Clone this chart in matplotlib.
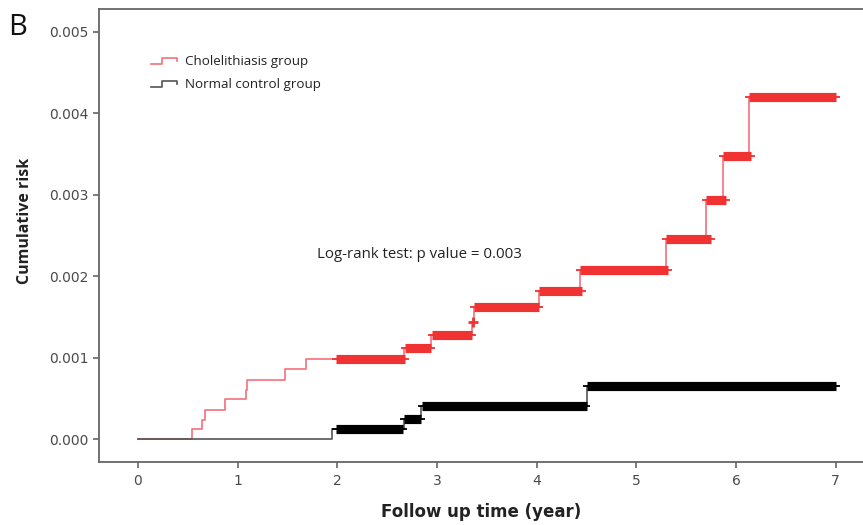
import matplotlib
matplotlib.use("Agg")
import matplotlib.pyplot as plt
from matplotlib.legend_handler import HandlerBase
from matplotlib.lines import Line2D

# Cholelithiasis group: step events (time in years, cumulative risk)
chole_t = [0.0, 0.546, 0.64, 0.67, 0.875, 1.088, 1.098, 1.477, 1.69,
           2.67, 2.944, 3.355, 3.37, 4.024, 4.43, 5.30, 5.70, 5.87, 6.13, 7.01]
chole_r = [0.0, 0.00012, 0.00024, 0.00036, 0.00049, 0.00061, 0.00073, 0.00086, 0.00098,
           0.00112, 0.001285, 0.00144, 0.001624, 0.001817, 0.002075, 0.002452,
           0.002934, 0.003478, 0.004195, 0.004195]
# dense censoring (drawn as thick bars): start, end, level
chole_cen_start = [1.99, 2.68, 2.945, 3.37, 4.025, 4.43, 5.30, 5.70, 5.87, 6.13]
chole_cen_end = [2.68, 2.94, 3.35, 4.02, 4.45, 5.32, 5.75, 5.90, 6.15, 7.00]
chole_cen_lvl = [0.00098, 0.00112, 0.001285, 0.001624, 0.001817, 0.002075,
                 0.002452, 0.002934, 0.003478, 0.004195]

# Normal control group
ctrl_t = [0.0, 1.947, 2.67, 2.838, 4.504, 7.01]
ctrl_r = [0.0, 0.000131, 0.000254, 0.000405, 0.000654, 0.000654]
ctrl_cen_start = [1.99, 2.67, 2.845, 4.507]
ctrl_cen_end = [2.66, 2.84, 4.50, 7.00]
ctrl_cen_lvl = [0.000131, 0.000254, 0.000405, 0.000654]

xticks = [0, 1, 2, 3, 4, 5, 6, 7]
yticks = [0.000, 0.001, 0.002, 0.003, 0.004, 0.005]

red_thin, red_bar = '#f4707a', '#f03232'
blk_thin, blk_bar = '#555555', '#000000'
spine_c = '#666666'


class StepHandler(HandlerBase):
    def create_artists(self, legend, orig, xd, yd, w, h, fontsize, trans):
        xs = [0, 0.42 * w, 0.42 * w, w, w]
        ys = [0.15 * h, 0.15 * h, 0.75 * h, 0.75 * h, 0.45 * h]
        ln = Line2D([x - xd for x in xs], [y - yd for y in ys],
                    color=orig.get_color(), lw=1.2, transform=trans)
        return [ln]


fig = plt.figure(figsize=(8.63, 5.25), dpi=100)
ax = fig.add_axes([99 / 863, 63 / 525, 764 / 863, 453 / 525])

ax.step(chole_t, chole_r, where='post', color=red_thin, lw=1.2)
ax.step(ctrl_t, ctrl_r, where='post', color=blk_thin, lw=1.2)

for s, e, l in zip(chole_cen_start, chole_cen_end, chole_cen_lvl):
    ax.plot([s - 0.04, e + 0.04], [l, l], color=red_bar, lw=1.3, solid_capstyle='butt')
    ax.plot([s, e], [l, l], color=red_bar, lw=6.6, solid_capstyle='butt')
for s, e, l in zip(ctrl_cen_start, ctrl_cen_end, ctrl_cen_lvl):
    ax.plot([s - 0.04, e + 0.04], [l, l], color=blk_bar, lw=1.3, solid_capstyle='butt')
    ax.plot([s, e], [l, l], color=blk_bar, lw=6.6, solid_capstyle='butt')
# single censor mark on the short step
ax.plot([3.36], [0.00144], marker='+', color=red_bar, ms=7, mew=2)

ax.set_xlim(-0.391, 7.274)
ax.set_ylim(-0.000279, 0.005279)
ax.set_xticks(xticks)
ax.set_xticklabels([str(x) for x in xticks])
ax.set_yticks(yticks)
ax.set_yticklabels(['%.3f' % y for y in yticks])

for side in ['left', 'bottom', 'top']:
    ax.spines[side].set_color(spine_c)
    ax.spines[side].set_linewidth(1.3)
ax.spines['right'].set_visible(False)
ax.tick_params(direction='out', length=4.5, width=1.2, color=spine_c,
               labelsize=10, labelcolor='#4a4a4a', pad=3)
ax.tick_params(axis='x', pad=4)

ax.set_xlabel('Follow up time (year)', fontsize=12, fontweight='bold',
              color='#222222', family='DejaVu Sans', labelpad=11)
ax.set_ylabel('Cumulative risk', fontsize=11.5, fontweight='bold',
              color='#222222', family='Open Sans')
ax.yaxis.set_label_coords(-0.086, 0.532)

ax.text(1.80, 0.00227, 'Log-rank test: p value = 0.003', fontsize=10.8,
        family='Open Sans', color='#222222', va='center', ha='left')

h1 = Line2D([], [], color=red_thin)
h2 = Line2D([], [], color=blk_thin)
ax.legend([h1, h2], ['Cholelithiasis group', 'Normal control group'],
          handler_map={Line2D: StepHandler()}, loc='upper left',
          bbox_to_anchor=(0.052, 0.925), frameon=False,
          prop={'family': 'Open Sans', 'size': 9.6}, handlelength=2.0,
          handletextpad=0.55, labelspacing=0.75, labelcolor='#222222')

fig.text(0.009, 0.975, 'B', fontsize=21, va='top', ha='left',
         family='Open Sans', color='#111111')

fig.savefig('out.png', dpi=100)
